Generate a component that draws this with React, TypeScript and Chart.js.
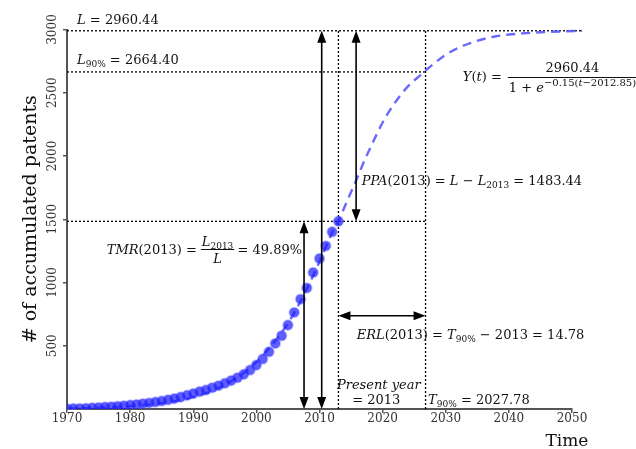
import React, { useEffect, useRef } from 'react';
import { Chart, registerables } from 'chart.js';

Chart.register(...registerables);

// ---------- data ----------
const years = [
  1970, 1971, 1972, 1973, 1974, 1975, 1976, 1977, 1978, 1979,
  1980, 1981, 1982, 1983, 1984, 1985, 1986, 1987, 1988, 1989,
  1990, 1991, 1992, 1993, 1994, 1995, 1996, 1997, 1998, 1999,
  2000, 2001, 2002, 2003, 2004, 2005, 2006, 2007, 2008, 2009,
  2010, 2011, 2012, 2013,
];
const patents = [
  2, 3, 4, 6, 9, 12, 15, 18, 22, 26,
  31, 36, 42, 48, 55, 63, 72, 82, 94, 108,
  122, 137, 150, 168, 184, 203, 224, 247, 274, 308,
  347, 395, 452, 518, 579, 663, 763, 868, 957, 1079,
  1189, 1289, 1400, 1484,
];
const fitYears = [
  1970, 1973, 1976, 1979, 1982, 1985, 1988, 1991, 1994, 1997,
  2000, 2002, 2004, 2006, 2008, 2010, 2012, 2013, 2014, 2015,
  2016, 2017, 2018, 2019, 2020, 2021, 2022, 2024, 2026, 2028,
  2030, 2032, 2034, 2036, 2038, 2040, 2043, 2046, 2049, 2051.6,
];
const fitValues = [
  4, 7, 12, 19, 30, 46, 70, 108, 165, 250,
  370, 480, 605, 760, 950, 1165, 1395, 1484, 1600, 1715,
  1830, 1950, 2060, 2165, 2265, 2350, 2425, 2550, 2640, 2725,
  2800, 2855, 2895, 2925, 2947, 2960, 2972, 2981, 2986, 2989,
];
const xTicks = [1970, 1980, 1990, 2000, 2010, 2020, 2030, 2040, 2050];
const yTicks = [500, 1000, 1500, 2000, 2500, 3000];

// model values (as printed on the figure)
const L_VALUE = 2960.44;
const L90_VALUE = 2664.4;
const L2013_VALUE = 1483.44;
const PRESENT_YEAR = 2013;
// guide positions as drawn in the picture
const TOP_LEVEL = 2990;
const T90_DRAWN = 2026.8;
const GUIDE_END = 2051.6;
const ARROW_TMR_YEAR = 2007.55;
const ARROW_L_YEAR = 2010.35;
const ARROW_PPA_YEAR = 2015.8;
const ARROW_ERL_LEVEL = 737;

// ---------- rich text helpers ----------
const FAM = '"DejaVu Serif", serif';
type Seg = { t: string; i?: boolean; sub?: boolean; sup?: boolean };
const BASE = 13;
const SMALL = 9;
const SUPSZ = 10;
const segFont = (s: Seg) =>
  `${s.i ? 'italic ' : ''}${s.sub ? SMALL : s.sup ? SUPSZ : BASE}px ${FAM}`;
const segDy = (s: Seg) => (s.sub ? 3 : s.sup ? -5.5 : 0);
function measure(ctx: CanvasRenderingContext2D, segs: Seg[]) {
  let w = 0;
  for (const s of segs) {
    ctx.font = segFont(s);
    w += ctx.measureText(s.t).width;
  }
  return w;
}
function drawSegs(
  ctx: CanvasRenderingContext2D,
  segs: Seg[],
  x: number,
  y: number,
  align: 'left' | 'center' = 'left'
) {
  let cx = align === 'center' ? x - measure(ctx, segs) / 2 : x;
  ctx.textAlign = 'left';
  ctx.textBaseline = 'alphabetic';
  for (const s of segs) {
    ctx.font = segFont(s);
    ctx.fillText(s.t, cx, y + segDy(s));
    cx += ctx.measureText(s.t).width;
  }
  return cx;
}
function drawFrac(
  ctx: CanvasRenderingContext2D,
  num: Seg[],
  den: Seg[],
  x: number,
  barY: number,
  numOff: number,
  denOff: number
) {
  const w = Math.max(measure(ctx, num), measure(ctx, den)) + 2;
  ctx.lineWidth = 1;
  ctx.beginPath();
  ctx.moveTo(x, barY + 0.5);
  ctx.lineTo(x + w, barY + 0.5);
  ctx.stroke();
  drawSegs(ctx, num, x + w / 2, barY + numOff, 'center');
  drawSegs(ctx, den, x + w / 2, barY + denOff, 'center');
  return x + w;
}
function head(ctx: CanvasRenderingContext2D, x: number, y: number, ux: number, uy: number) {
  const H = 12;
  const W = 4.5;
  const bx = x - ux * H;
  const by = y - uy * H;
  ctx.beginPath();
  ctx.moveTo(x, y);
  ctx.lineTo(bx - uy * W, by + ux * W);
  ctx.lineTo(bx + uy * W, by - ux * W);
  ctx.closePath();
  ctx.fill();
}
function arrow2(ctx: CanvasRenderingContext2D, x1: number, y1: number, x2: number, y2: number) {
  const len = Math.hypot(x2 - x1, y2 - y1);
  const ux = (x2 - x1) / len;
  const uy = (y2 - y1) / len;
  ctx.lineWidth = 1.6;
  ctx.beginPath();
  ctx.moveTo(x1 + ux * 8, y1 + uy * 8);
  ctx.lineTo(x2 - ux * 8, y2 - uy * 8);
  ctx.stroke();
  head(ctx, x2, y2, ux, uy);
  head(ctx, x1, y1, -ux, -uy);
}

const annotPlugin = {
  id: 'annotations',
  afterDatasetsDraw(chart: any) {
    const ctx: CanvasRenderingContext2D = chart.ctx;
    const xs = chart.scales.x;
    const ys = chart.scales.y;
    const px = (v: number) => xs.getPixelForValue(v);
    const py = (v: number) => ys.getPixelForValue(v);
    ctx.save();
    ctx.fillStyle = '#000';
    ctx.strokeStyle = '#000';

    // arrows
    arrow2(ctx, px(ARROW_TMR_YEAR), py(0), px(ARROW_TMR_YEAR), py(L2013_VALUE));
    arrow2(ctx, px(ARROW_L_YEAR), py(0), px(ARROW_L_YEAR), py(TOP_LEVEL));
    arrow2(ctx, px(ARROW_PPA_YEAR), py(TOP_LEVEL), px(ARROW_PPA_YEAR), py(L2013_VALUE));
    arrow2(ctx, px(PRESENT_YEAR), py(ARROW_ERL_LEVEL), px(T90_DRAWN), py(ARROW_ERL_LEVEL));

    ctx.fillStyle = '#111';
    ctx.strokeStyle = '#111';
    // L label
    drawSegs(ctx, [{ t: 'L', i: true }, { t: ' = 2960.44' }], px(1971.6), py(3043));
    // L90 label
    drawSegs(
      ctx,
      [{ t: 'L', i: true }, { t: '90%', sub: true }, { t: ' = 2664.40' }],
      px(1971.6),
      py(2731)
    );
    // logistic formula
    {
      const barY = Math.round(py(2624));
      const x = drawSegs(
        ctx,
        [{ t: 'Y', i: true }, { t: '(' }, { t: 't', i: true }, { t: ') =' }],
        px(2032.7),
        barY + 4
      );
      drawFrac(
        ctx,
        [{ t: '2960.44' }],
        [
          { t: '1 + ' },
          { t: 'e', i: true },
          { t: '\u22120.15(', sup: true },
          { t: 't', i: true, sup: true },
          { t: '\u22122012.85)', sup: true },
        ],
        x + 6,
        barY,
        -5.5,
        14.5
      );
    }
    // PPA
    drawSegs(
      ctx,
      [
        { t: 'PPA', i: true },
        { t: '(2013) = ' },
        { t: 'L', i: true },
        { t: ' \u2212 ' },
        { t: 'L', i: true },
        { t: '2013', sub: true },
        { t: ' = 1483.44' },
      ],
      px(2016.7),
      py(1771)
    );
    // TMR
    {
      const base = py(1229);
      let x = drawSegs(ctx, [{ t: 'TMR', i: true }, { t: '(2013) =' }], px(1976.3), base);
      x = drawFrac(
        ctx,
        [{ t: 'L', i: true }, { t: '2013', sub: true }],
        [{ t: 'L', i: true }],
        x + 4,
        Math.round(base - 4.5),
        -3.5,
        13.5
      );
      drawSegs(ctx, [{ t: ' = 49.89%' }], x - 1, base);
    }
    // ERL
    drawSegs(
      ctx,
      [
        { t: 'ERL', i: true },
        { t: '(2013) = ' },
        { t: 'T', i: true },
        { t: '90%', sub: true },
        { t: ' \u2212 2013 = 14.78' },
      ],
      px(2015.9),
      py(553)
    );
    // present year
    drawSegs(ctx, [{ t: 'Present year', i: true }], px(2019.4), py(162), 'center');
    drawSegs(ctx, [{ t: '= 2013' }], px(2019.0), py(43), 'center');
    // T90
    drawSegs(
      ctx,
      [{ t: 'T', i: true }, { t: '90%', sub: true }, { t: ' = 2027.78' }],
      px(2027.2),
      py(43)
    );

    // axis titles
    ctx.fillStyle = '#111';
    ctx.font = `17px ${FAM}`;
    ctx.textAlign = 'center';
    ctx.textBaseline = 'alphabetic';
    ctx.fillText('Time', px(2049.2), chart.height - 3);
    ctx.save();
    ctx.font = `19px ${FAM}`;
    ctx.translate(36, (chart.chartArea.top + chart.chartArea.bottom) / 2);
    ctx.rotate(-Math.PI / 2);
    ctx.textBaseline = 'alphabetic';
    ctx.fillText('# of accumulated patents', 0, 0);
    ctx.restore();

    ctx.restore();
  },
};

const guide = (pts: { x: number; y: number }[]) => ({
  type: 'line' as const,
  data: pts,
  borderColor: '#000',
  borderWidth: 1.3,
  borderDash: [2, 2],
  pointRadius: 0,
  fill: false,
  clip: false as any,
});

export default function App() {
  const ref = useRef<HTMLCanvasElement | null>(null);
  useEffect(() => {
    if (!ref.current) return;
    const axisFont = { family: FAM, size: 12 };
    const chart = new Chart(ref.current, {
      type: 'line',
      data: {
        datasets: [
          {
            label: 'patents',
            data: years.map((y, i) => ({ x: y, y: patents[i] })),
            showLine: false,
            pointRadius: 4.8,
            pointBackgroundColor: 'rgba(25,25,255,0.7)',
            pointBorderColor: 'rgba(70,70,255,0.3)',
            pointBorderWidth: 2,
            borderColor: 'rgba(25,25,255,0.7)',
          },
          {
            label: 'fit',
            data: fitYears.map((y, i) => ({ x: y, y: fitValues[i] })),
            borderColor: 'rgba(90,90,255,0.9)',
            borderWidth: 2.4,
            borderDash: [9, 6],
            pointRadius: 0,
            cubicInterpolationMode: 'monotone',
            fill: false,
            clip: false as any,
          },
          guide([{ x: 1970, y: TOP_LEVEL }, { x: GUIDE_END, y: TOP_LEVEL }]),
          guide([{ x: 1970, y: L90_VALUE }, { x: T90_DRAWN, y: L90_VALUE }]),
          guide([{ x: 1970, y: L2013_VALUE }, { x: T90_DRAWN, y: L2013_VALUE }]),
          guide([{ x: PRESENT_YEAR, y: 0 }, { x: PRESENT_YEAR, y: TOP_LEVEL }]),
          guide([{ x: T90_DRAWN, y: 0 }, { x: T90_DRAWN, y: TOP_LEVEL }]),
        ] as any,
      },
      options: {
        animation: false,
        responsive: false,
        devicePixelRatio: 1,
        layout: { padding: { left: 0, top: 29.5, right: 64, bottom: 0 } },
        plugins: { legend: { display: false }, tooltip: { enabled: false }, title: { display: false } },
        scales: {
          x: {
            type: 'linear',
            min: 1970,
            max: 2050,
            afterBuildTicks: (axis: any) => {
              axis.ticks = xTicks.map((v) => ({ value: v }));
            },
            afterFit: (axis: any) => {
              axis.height = 40;
            },
            ticks: {
              callback: (v: any) => String(v),
              font: axisFont,
              color: '#333',
              padding: -1,
              maxRotation: 0,
              autoSkip: false,
            },
            grid: { drawOnChartArea: false, drawTicks: true, tickLength: 4, color: '#555', lineWidth: 1.5 },
            border: { display: true, color: '#555', width: 2 },
          },
          y: {
            type: 'linear',
            min: 0,
            max: 3000,
            afterBuildTicks: (axis: any) => {
              axis.ticks = yTicks.map((v) => ({ value: v }));
            },
            afterFit: (axis: any) => {
              axis.width = 67;
            },
            ticks: {
              callback: (v: any) => String(v),
              font: axisFont,
              color: '#333',
              minRotation: 90,
              maxRotation: 90,
              crossAlign: 'center',
              padding: -4.75,
              autoSkip: false,
            },
            grid: { drawOnChartArea: false, drawTicks: true, tickLength: 4, color: '#555', lineWidth: 1.5 },
            border: { display: true, color: '#555', width: 2 },
          },
        },
      } as any,
      plugins: [annotPlugin],
    });
    return () => chart.destroy();
  }, []);
  return (
    <div style={{ position: 'fixed', left: 0, top: 0, width: 636, height: 449, background: '#fff' }}>
      <canvas ref={ref} width={636} height={449} style={{ display: 'block' }} />
    </div>
  );
}
